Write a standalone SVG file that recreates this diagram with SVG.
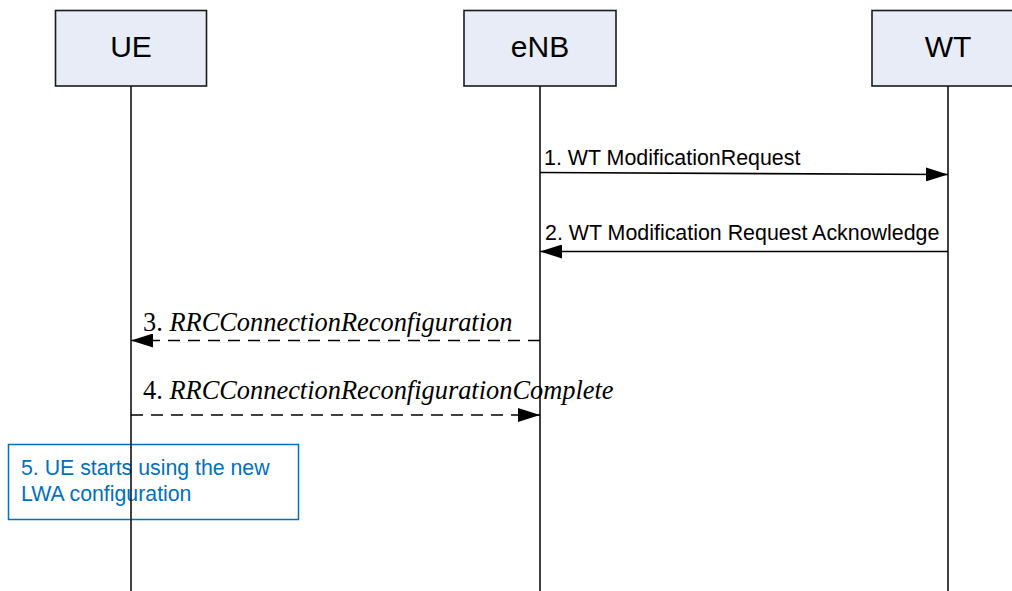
<svg xmlns="http://www.w3.org/2000/svg" width="1012" height="591" viewBox="0 0 1012 591">
<style>
.box{fill:#E7ECF7;stroke:#1a1a1a;stroke-width:1.6}
.ttl{font-family:"Liberation Sans",Arial,sans-serif;font-size:30px;fill:#000;text-anchor:middle}
.life{stroke:#111;stroke-width:1.6;fill:none}
.msg{stroke:#000;stroke-width:1.6;fill:none}
.dash{stroke-dasharray:12 8}
.lbl{font-family:"Liberation Sans",Arial,sans-serif;font-size:21.4px;fill:#000}
.ilbl{font-family:"Liberation Serif","Times New Roman",serif;font-size:26.4px;fill:#000}
.it{font-style:italic}
.note{fill:none;stroke:#0070C0;stroke-width:1.5}
.ntxt{font-family:"Liberation Sans",Arial,sans-serif;font-size:21.3px;fill:#0070C0}
</style>
<defs>
<marker id="ah" markerWidth="22" markerHeight="14" refX="22" refY="7" orient="auto" markerUnits="userSpaceOnUse">
<path d="M0,0 L22,7 L0,14 Z" fill="#000"/>
</marker>
</defs>
<rect width="1012" height="591" fill="#fff"/>
<g id="note5">
<rect class="note" x="8.5" y="444.5" width="290" height="75"/>
<text class="ntxt" x="21" y="475">5. UE starts using the new</text>
<text class="ntxt" x="21" y="501">LWA configuration</text>
</g>
<g id="lifelines">
<line class="life" x1="131" y1="86" x2="131" y2="591"/>
<line class="life" x1="540" y1="86" x2="540" y2="591"/>
<line class="life" x1="948" y1="86" x2="948" y2="591"/>
</g>
<g id="UE">
<rect class="box" x="55.5" y="10.5" width="151" height="75.5"/>
<text class="ttl" x="131" y="57">UE</text>
</g>
<g id="eNB">
<rect class="box" x="464" y="10.5" width="152" height="75.5"/>
<text class="ttl" x="540" y="57">eNB</text>
</g>
<g id="WT">
<rect class="box" x="872" y="10.5" width="152" height="75.5"/>
<text class="ttl" x="948" y="57">WT</text>
</g>
<g id="connectors">
<line class="msg" x1="540" y1="172.5" x2="948" y2="174.5" marker-end="url(#ah)"/>
<text class="lbl" x="544" y="165">1. WT ModificationRequest</text>
<line class="msg" x1="948" y1="251.5" x2="540" y2="251.5" marker-end="url(#ah)"/>
<text class="lbl" x="545" y="240">2. WT Modification Request Acknowledge</text>
<line class="msg dash" x1="540" y1="340.5" x2="131" y2="340.5" marker-end="url(#ah)"/>
<text class="ilbl" x="143" y="331">3. <tspan class="it">RRCConnectionReconfiguration</tspan></text>
<line class="msg dash" x1="131" y1="415" x2="540" y2="415" marker-end="url(#ah)"/>
<text class="ilbl" x="143" y="399">4. <tspan class="it">RRCConnectionReconfigurationComplete</tspan></text>
</g>
</svg>
